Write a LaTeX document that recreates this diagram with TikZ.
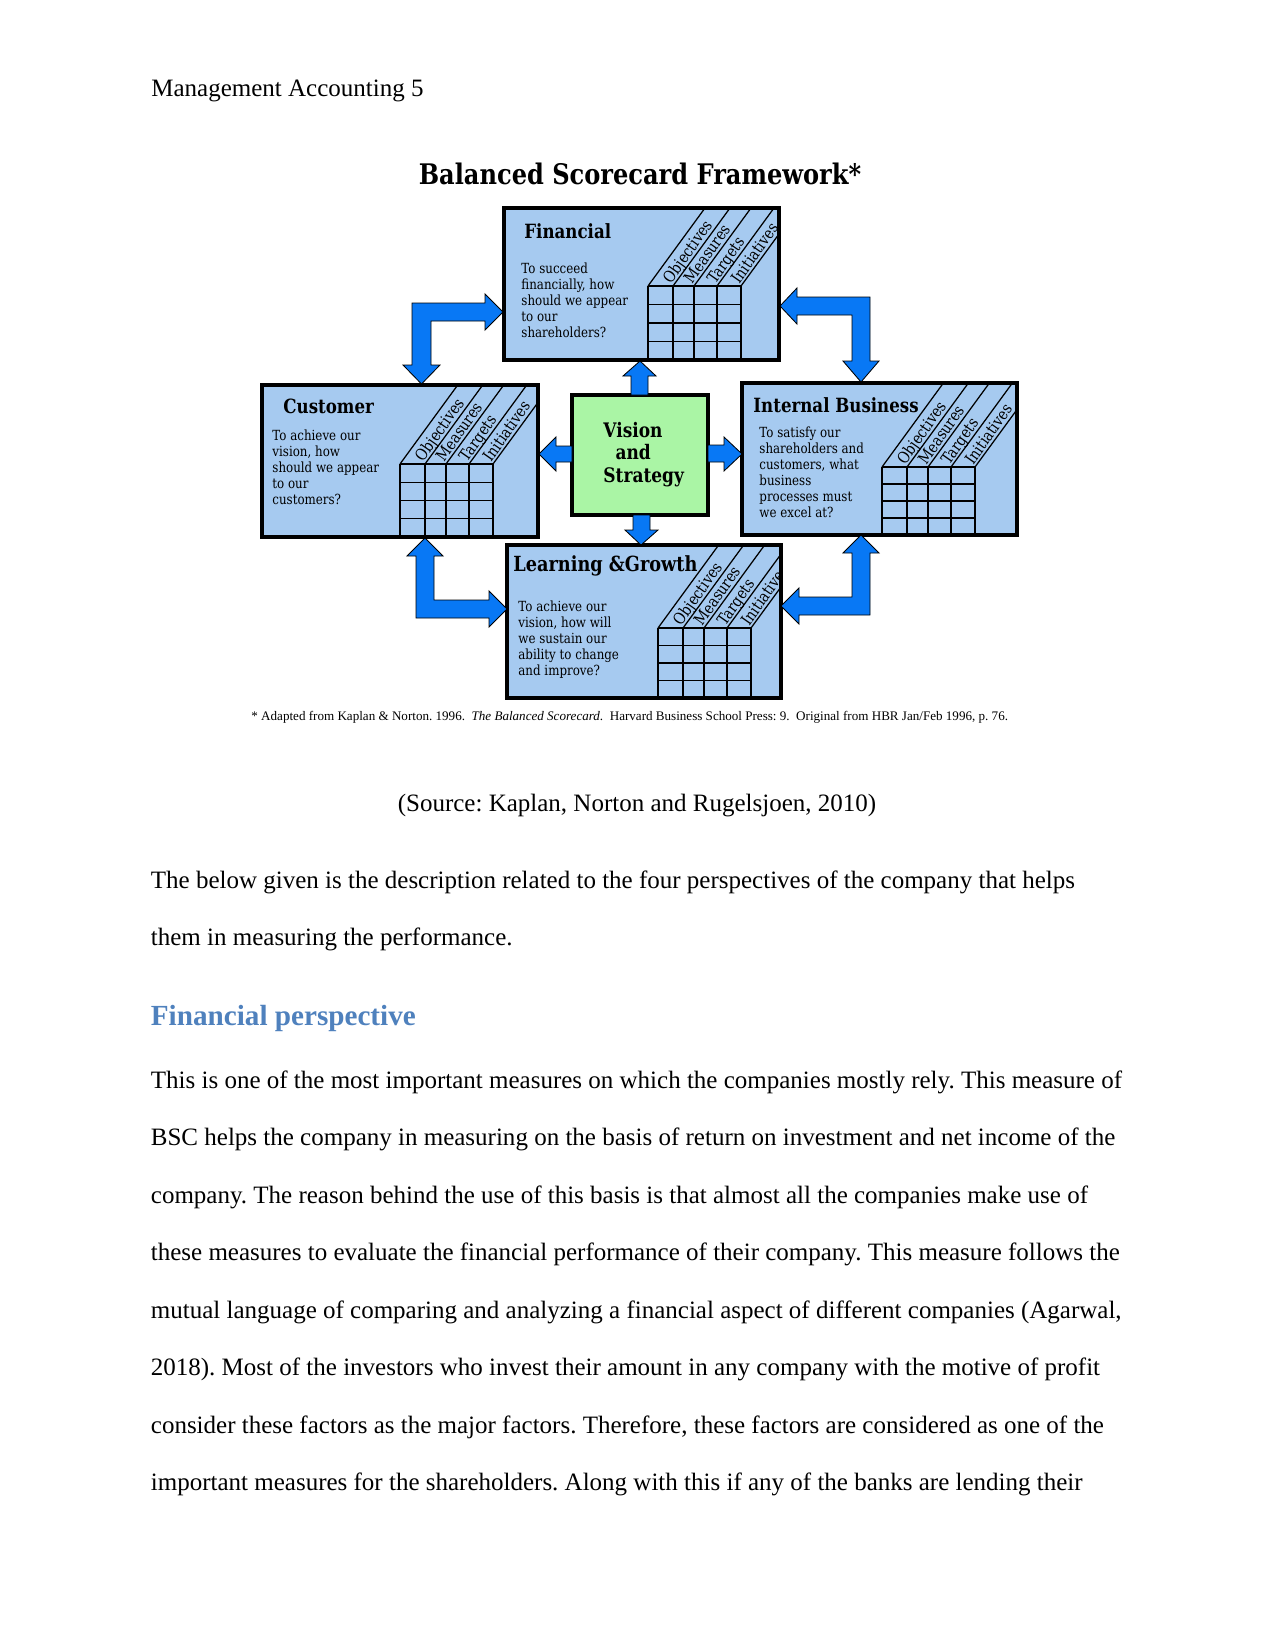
\documentclass[tikz,border=0pt]{standalone}
\usepackage{fontspec}
\setmainfont{Liberation Serif}
\newfontfamily\diafont[FakeStretch=0.85]{DejaVu Serif}
\usetikzlibrary{fit}

\definecolor{boxblue}{RGB}{166,202,240}
\definecolor{boxgreen}{RGB}{170,245,165}
\definecolor{arrowblue}{RGB}{8,120,245}
\definecolor{headblue}{RGB}{79,129,189}

\tikzset{
  pbox/.style={draw, line width=1.5pt, fill=boxblue, inner sep=0pt},
  visbox/.style={draw, line width=1.5pt, fill=boxgreen, inner sep=0pt},
  barrow/.style={draw, line width=0.4pt, fill=arrowblue},
  gridline/.style={line width=0.6pt},
  collabel/.style={anchor=base west, rotate=55, inner sep=0pt, font=\diafont\fontsize{7.7}{9}\selectfont},
  ptitle/.style={anchor=base west, inner sep=0pt, font=\diafont\bfseries\fontsize{9.4}{10}\selectfont},
  ptext/.style={anchor=base west, inner sep=0pt, font=\diafont\fontsize{6.7}{7.7}\selectfont},
  body/.style={anchor=base west, inner sep=0pt, font=\fontsize{12}{14}\selectfont},
}

% grid with slanted column heads: box, left x, top y, bottom y
\newcommand{\scoregrid}[4]{%
  \begin{scope}
    \clip (#1.south west) rectangle (#1.north east);
    \foreach \c in {0,25,46,69,93}{
      \draw[gridline] (#2+\c,#3) -- (#2+\c,#4);
      \draw[gridline] (#2+\c,#3) -- ++(114,-156);
    }
    \foreach \r in {0,1,2,3}
      \draw[gridline] (#2,{#3+\r*(#4-#3)/4}) -- (#2+93,{#3+\r*(#4-#3)/4});
    \foreach \lab/\c in {Objectives/25,Measures/46,Targets/69,Initiatives/93}
      \node[collabel] at (#2+\c-2,#3-1) {\lab};
  \end{scope}
}

\begin{document}
\frenchspacing
\begin{tikzpicture}[x=0.48pt,y=-0.48pt]
\useasboundingbox (0,0) rectangle (1275,1651);

\node[body] (header) at (151,97) {Management Accounting 5};

\node[anchor=base, inner sep=0pt, font=\diafont\bfseries\fontsize{13.6}{15}\selectfont] (title) at (640,185) {Balanced Scorecard Framework*};

% the four perspectives
\node[pbox, fit={(504,208) (779,360)}] (fin) {};
\node[pbox, fit={(262,385) (538,537)}] (cust) {};
\node[pbox, fit={(742,383) (1017,535)}] (intb) {};
\node[pbox, fit={(507,545) (781,698)}] (learn) {};
\node[visbox, fit={(572,395) (708,515)}] (vis) {};

\scoregrid{fin}{648}{286}{360}
\scoregrid{cust}{400}{464}{537}
\scoregrid{intb}{882}{467}{535}
\scoregrid{learn}{658}{628}{698}

\node[ptitle] (fintitle) at (524,239) {Financial};
\node[ptext] (fintext) at (521,273) {\begin{tabular}[t]{@{}l@{}}To succeed\\financially, how\\should we appear\\to our\\shareholders?\end{tabular}};

\node[ptitle] (custtitle) at (283,413) {Customer};
\node[ptext] (custtext) at (272,440) {\begin{tabular}[t]{@{}l@{}}To achieve our\\vision, how\\should we appear\\to our\\customers?\end{tabular}};

\node[ptitle] (intbtitle) at (753,412) {Internal Business};
\node[ptext] (intbtext) at (759,437) {\begin{tabular}[t]{@{}l@{}}To satisfy our\\shareholders and\\customers, what\\business\\processes must\\we excel at?\end{tabular}};

\node[ptitle, font=\diafont\bfseries\fontsize{10}{11}\selectfont] (learntitle) at (513,571) {Learning \&Growth};
\node[ptext] (learntext) at (518,611) {\begin{tabular}[t]{@{}l@{}}To achieve our\\vision, how will\\we sustain our\\ability to change\\and improve?\end{tabular}};

\node[anchor=base west, inner sep=0pt, font=\diafont\bfseries\fontsize{9.6}{10.8}\selectfont] (vistext) at (603,437) {\begin{tabular}[t]{@{}l@{}}Vision\\\hspace{5.8pt}and\\Strategy\end{tabular}};

% block arrows
\draw[barrow] (503,312) -- (485,294) -- (485,303) -- (412,303) -- (412,365) -- (403,365) -- (421.5,384)
  -- (440,365) -- (431,365) -- (431,321) -- (485,321) -- (485,330) -- cycle;
\draw[barrow] (780,306) -- (797,288) -- (797,297) -- (870,297) -- (870,361) -- (879,361) -- (861,382)
  -- (843,361) -- (852,361) -- (852,315) -- (797,315) -- (797,324) -- cycle;
\draw[barrow] (425,538) -- (443,556) -- (434,556) -- (434,600) -- (489,600) -- (489,591) -- (507,609)
  -- (489,627) -- (489,618) -- (416,618) -- (416,556) -- (407,556) -- cycle;
\draw[barrow] (861,535) -- (879,553) -- (870,553) -- (870,615) -- (799,615) -- (799,624) -- (781,606)
  -- (799,588) -- (799,597) -- (852,597) -- (852,553) -- (843,553) -- cycle;

\draw[barrow] (640,361) -- (656,376) -- (648,376) -- (648,395) -- (631,395) -- (631,376) -- (623,376) -- cycle;
\draw[barrow] (641,545) -- (658,530) -- (650,530) -- (650,515) -- (633,515) -- (633,530) -- (625,530) -- cycle;
\draw[barrow] (742,454) -- (724,437) -- (724,445) -- (708,445) -- (708,462) -- (724,462) -- (724,471) -- cycle;
\draw[barrow] (539,454) -- (556,437) -- (556,446) -- (572,446) -- (572,462) -- (556,462) -- (556,471) -- cycle;

\node[anchor=base west, inner sep=0pt, font=\fontsize{6.28}{8}\selectfont] (foot) at (251,720)
  {* Adapted from Kaplan \& Norton. 1996.\ \ \textit{The Balanced Scorecard}.\ \ Harvard Business School Press: 9.\ \ Original from HBR Jan/Feb 1996, p. 76.};

\node[anchor=base, inner sep=0pt, font=\fontsize{12}{14}\selectfont] (source) at (637,811) {(Source: Kaplan, Norton and Rugelsjoen, 2010)};

\node[body] (intro1) at (150.5,888) {The below given is the description related to the four perspectives of the company that helps};
\node[body] (intro2) at (150.5,945) {them in measuring the performance.};

\node[anchor=base west, inner sep=0pt, text=headblue, font=\bfseries\fontsize{14}{16}\selectfont] (head) at (150.5,1025) {Financial perspective};

\node[body] (par1) at (150.5,1088) {This is one of the most important measures on which the companies mostly rely. This measure of};
\node[body] (par2) at (150.5,1145.5) {BSC helps the company in measuring on the basis of return on investment and net income of the};
\node[body] (par3) at (150.5,1203) {company. The reason behind the use of this basis is that almost all the companies make use of};
\node[body] (par4) at (150.5,1260.5) {these measures to evaluate the financial performance of their company. This measure follows the};
\node[body] (par5) at (150.5,1318) {mutual language of comparing and analyzing a financial aspect of different companies (Agarwal,};
\node[body] (par6) at (150.5,1375.5) {2018). Most of the investors who invest their amount in any company with the motive of profit};
\node[body] (par7) at (150.5,1433) {consider these factors as the major factors. Therefore, these factors are considered as one of the};
\node[body] (par8) at (150.5,1490.5) {important measures for the shareholders. Along with this if any of the banks are lending their};
\end{tikzpicture}
\end{document}
